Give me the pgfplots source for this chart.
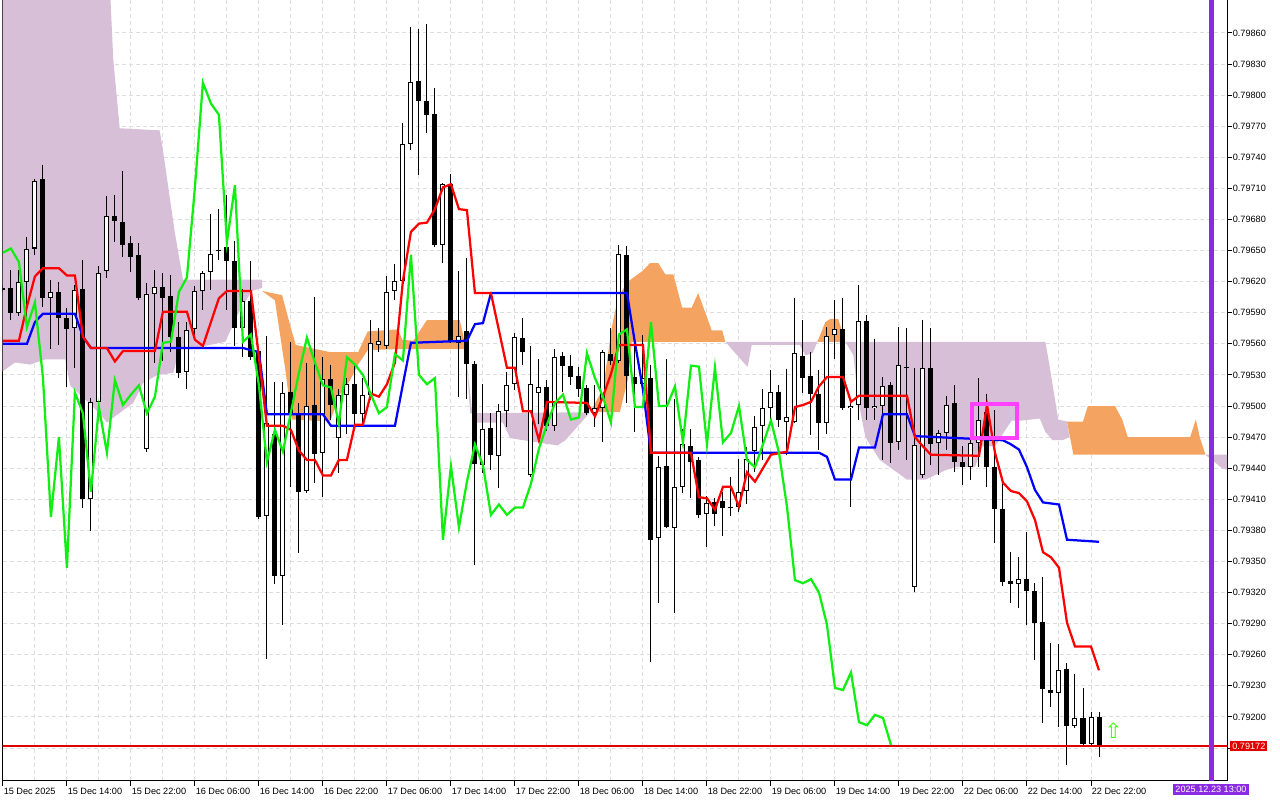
\documentclass[border=0pt]{standalone}
\usepackage{fontspec}
\setmainfont{Liberation Sans}
\newfontfamily\dejavu{DejaVu Sans}
\usepackage{pgfplots}
\usepackage{pgfplotstable}
\pgfplotsset{compat=1.18}

\definecolor{thistlec}{HTML}{D8BFD8}
\definecolor{sandyc}{HTML}{F4A460}
\definecolor{tenkanc}{HTML}{FF0000}
\definecolor{kijunc}{HTML}{0000FF}
\definecolor{chikouc}{HTML}{11EE11}
\definecolor{vlinec}{HTML}{8A2BE2}
\definecolor{boxc}{HTML}{FF40FF}
\definecolor{pricec}{HTML}{E00000}
\definecolor{gridc}{HTML}{DDDDDD}
\newcommand\lbl{\fontsize{5.2}{6}\selectfont}

% H1 candles, bar index 0 = 15 Dec 06:00
\pgfplotstableread{
i o h l c
0 0.79614 0.79617 0.79610 0.79612
1 0.79614 0.79631 0.79583 0.79590
2 0.79590 0.79631 0.79587 0.79620
3 0.79620 0.79663 0.79576 0.79652
4 0.79652 0.79719 0.79646 0.79717
5 0.79719 0.79733 0.79596 0.79604
6 0.79604 0.79622 0.79555 0.79610
7 0.79610 0.79620 0.79559 0.79585
8 0.79585 0.79595 0.79518 0.79574
9 0.79575 0.79617 0.79537 0.79612
10 0.79613 0.79641 0.79402 0.79410
11 0.79410 0.79508 0.79379 0.79504
12 0.79504 0.79635 0.79493 0.79628
13 0.79630 0.79703 0.79624 0.79683
14 0.79683 0.79704 0.79658 0.79679
15 0.79678 0.79727 0.79644 0.79655
16 0.79657 0.79664 0.79629 0.79644
17 0.79646 0.79657 0.79602 0.79604
18 0.79459 0.79619 0.79456 0.79608
19 0.79608 0.79631 0.79542 0.79615
20 0.79615 0.79628 0.79543 0.79604
21 0.79606 0.79626 0.79552 0.79567
22 0.79567 0.79581 0.79527 0.79532
23 0.79533 0.79581 0.79516 0.79573
24 0.79574 0.79616 0.79564 0.79611
25 0.79611 0.79630 0.79593 0.79628
26 0.79629 0.79685 0.79612 0.79647
27 0.79651 0.79690 0.79641 0.79650
28 0.79653 0.79704 0.79593 0.79640
29 0.79640 0.79659 0.79558 0.79575
30 0.79575 0.79613 0.79547 0.79601
31 0.79601 0.79640 0.79544 0.79547
32 0.79553 0.79556 0.79391 0.79393
33 0.79394 0.79568 0.79256 0.79484
34 0.79473 0.79523 0.79328 0.79336
35 0.79336 0.79523 0.79289 0.79513
36 0.79514 0.79562 0.79422 0.79492
37 0.79492 0.79503 0.79358 0.79417
38 0.79418 0.79542 0.79416 0.79500
39 0.79501 0.79605 0.79426 0.79454
40 0.79455 0.79547 0.79412 0.79526
41 0.79526 0.79540 0.79487 0.79501
42 0.79469 0.79516 0.79435 0.79511
43 0.79511 0.79527 0.79473 0.79521
44 0.79521 0.79542 0.79477 0.79492
45 0.79492 0.79527 0.79483 0.79511
46 0.79511 0.79583 0.79506 0.79561
47 0.79559 0.79575 0.79552 0.79563
48 0.79558 0.79625 0.79555 0.79610
49 0.79611 0.79637 0.79602 0.79621
50 0.79621 0.79773 0.79618 0.79753
51 0.79753 0.79866 0.79747 0.79813
52 0.79814 0.79864 0.79723 0.79794
53 0.79794 0.79869 0.79763 0.79781
54 0.79782 0.79807 0.79653 0.79655
55 0.79655 0.79715 0.79638 0.79714
56 0.79714 0.79724 0.79561 0.79563
57 0.79561 0.79630 0.79509 0.79568
58 0.79572 0.79643 0.79507 0.79541
59 0.79541 0.79543 0.79347 0.79444
60 0.79443 0.79521 0.79435 0.79478
61 0.79479 0.79493 0.79438 0.79453
62 0.79452 0.79502 0.79421 0.79495
63 0.79495 0.79533 0.79480 0.79520
64 0.79521 0.79570 0.79515 0.79567
65 0.79566 0.79585 0.79540 0.79552
66 0.79433 0.79558 0.79432 0.79521
67 0.79513 0.79545 0.79483 0.79518
68 0.79518 0.79525 0.79476 0.79481
69 0.79481 0.79555 0.79476 0.79547
70 0.79548 0.79552 0.79514 0.79539
71 0.79539 0.79549 0.79520 0.79528
72 0.79529 0.79538 0.79509 0.79516
73 0.79517 0.79520 0.79491 0.79493
74 0.79493 0.79520 0.79480 0.79498
75 0.79498 0.79554 0.79465 0.79552
76 0.79550 0.79575 0.79540 0.79543
77 0.79543 0.79655 0.79542 0.79647
78 0.79646 0.79654 0.79503 0.79529
79 0.79528 0.79561 0.79475 0.79521
80 0.79521 0.79569 0.79519 0.79527
81 0.79527 0.79540 0.79253 0.79371
82 0.79373 0.79452 0.79310 0.79441
83 0.79442 0.79545 0.79382 0.79383
84 0.79382 0.79507 0.79300 0.79422
85 0.79422 0.79478 0.79416 0.79463
86 0.79461 0.79478 0.79411 0.79446
87 0.79448 0.79451 0.79392 0.79395
88 0.79396 0.79413 0.79364 0.79406
89 0.79407 0.79411 0.79384 0.79396
90 0.79408 0.79417 0.79375 0.79402
91 0.79403 0.79432 0.79394 0.79402
92 0.79403 0.79449 0.79398 0.79417
93 0.79418 0.79460 0.79405 0.79449
94 0.79457 0.79490 0.79436 0.79480
95 0.79481 0.79516 0.79448 0.79498
96 0.79498 0.79535 0.79487 0.79514
97 0.79514 0.79520 0.79480 0.79487
98 0.79485 0.79536 0.79453 0.79489
99 0.79485 0.79604 0.79484 0.79551
100 0.79548 0.79583 0.79513 0.79527
101 0.79529 0.79552 0.79472 0.79512
102 0.79512 0.79535 0.79458 0.79484
103 0.79484 0.79576 0.79473 0.79568
104 0.79569 0.79602 0.79545 0.79574
105 0.79574 0.79604 0.79496 0.79498
106 0.79498 0.79503 0.79403 0.79500
107 0.79501 0.79617 0.79487 0.79582
108 0.79582 0.79588 0.79487 0.79498
109 0.79498 0.79565 0.79487 0.79500
110 0.79500 0.79528 0.79448 0.79519
111 0.79520 0.79523 0.79445 0.79464
112 0.79465 0.79576 0.79458 0.79540
113 0.79538 0.79575 0.79448 0.79537
114 0.79325 0.79537 0.79321 0.79462
115 0.79433 0.79583 0.79431 0.79537
116 0.79537 0.79575 0.79443 0.79463
117 0.79464 0.79477 0.79433 0.79474
118 0.79474 0.79510 0.79458 0.79501
119 0.79503 0.79520 0.79436 0.79446
120 0.79446 0.79461 0.79424 0.79441
121 0.79441 0.79475 0.79429 0.79464
122 0.79464 0.79527 0.79441 0.79487
123 0.79494 0.79512 0.79422 0.79441
124 0.79441 0.79496 0.79368 0.79401
125 0.79401 0.79426 0.79326 0.79330
126 0.79331 0.79359 0.79310 0.79328
127 0.79328 0.79354 0.79305 0.79333
128 0.79333 0.79378 0.79289 0.79322
129 0.79322 0.79329 0.79255 0.79291
130 0.79292 0.79335 0.79194 0.79227
131 0.79226 0.79271 0.79210 0.79223
132 0.79223 0.79270 0.79190 0.79245
133 0.79246 0.79252 0.79154 0.79191
134 0.79191 0.79241 0.79189 0.79199
135 0.79199 0.79228 0.79173 0.79174
136 0.79174 0.79205 0.79172 0.79200
137 0.79200 0.79205 0.79161 0.79172
}\candles

\begin{document}
\begin{tikzpicture}
\path[use as bounding box] (-0.054,-0.38) rectangle (25.546,15.62);
\begin{axis}[
    at={(0,0)}, anchor=south west,
    scale only axis,
    width=24.486cm, height=15.62cm,
    xmin=-0.025, xmax=153.0,
    ymin=0.791382, ymax=0.798918,
    clip mode=individual,
    axis line style={black, line width=0.02cm},
    tick style={black, line width=0.02cm},
    tick align=outside,
    major tick length=0.1cm,
    minor tick length=0pt,
    xtick pos=left,
    ytick pos=right,
    yticklabel pos=right,
    xtick={0,8,...,136},
    minor x tick num=1,
    xticklabels={15 Dec 2025,15 Dec 14:00,15 Dec 22:00,16 Dec 06:00,16 Dec 14:00,16 Dec 22:00,17 Dec 06:00,17 Dec 14:00,17 Dec 22:00,18 Dec 06:00,18 Dec 14:00,18 Dec 22:00,19 Dec 06:00,19 Dec 14:00,19 Dec 22:00,22 Dec 06:00,22 Dec 14:00,22 Dec 22:00},
    ytick={0.7917,0.7920,0.7923,0.7926,0.7929,0.7932,0.7935,0.7938,0.7941,0.7944,0.7947,0.7950,0.7953,0.7956,0.7959,0.7962,0.7965,0.7968,0.7971,0.7974,0.7977,0.7980,0.7983,0.7986},
    yticklabels={,0.79200,0.79230,0.79260,0.79290,0.79320,0.79350,0.79380,0.79410,0.79440,0.79470,0.79500,0.79530,0.79560,0.79590,0.79620,0.79650,0.79680,0.79710,0.79740,0.79770,0.79800,0.79830,0.79860},
    xticklabel style={font=\lbl, anchor=north west, inner sep=0pt, xshift=0.01cm, yshift=-0.04cm},
    yticklabel style={font=\lbl, anchor=west, inner sep=0pt, xshift=0.01cm},
    xmajorgrids, xminorgrids, ymajorgrids,
    major grid style={gridc, line width=0.02cm, dash pattern=on 0.08cm off 0.06cm},
    minor grid style={gridc, line width=0.02cm, dash pattern=on 0.08cm off 0.06cm},
]

% Ichimoku cloud
\addplot[fill=thistlec, draw=none, forget plot] coordinates {(-1,0.7990) (13.4,0.7990) (13.8,0.79834) (14.6,0.79768) (19.6,0.79766) (20.0,0.79747) (21.5,0.79667) (22.5,0.79622) (32.4,0.79622) (32.4,0.79614) (31.1,0.79611) (29.4,0.79589) (27.8,0.79562) (22.8,0.79554) (22.1,0.79557) (21.3,0.79532) (19.3,0.79530) (17.5,0.79522) (16.3,0.79503) (14.0,0.79490) (13.0,0.79484) (12.1,0.79493) (10.3,0.79506) (8.4,0.79520) (7.8,0.79545) (5.3,0.79545) (3.4,0.79540) (1.5,0.79542) (-1,0.79528)};
\addplot[fill=sandyc, draw=none, forget plot] coordinates {(32.4,0.79611) (34.9,0.79607) (35.9,0.79578) (36.6,0.79559) (40.9,0.79552) (44.4,0.79552) (45.6,0.79572) (49.4,0.79574) (49.9,0.79564) (51.3,0.79563) (53.0,0.79583) (57.1,0.79583) (57.8,0.79559) (57.8,0.79555) (49.6,0.79555) (45.6,0.79554) (44.4,0.79540) (43.4,0.79525) (42.1,0.79511) (40.9,0.79485) (36.1,0.79487) (35.3,0.79535) (34.0,0.79602)};
\addplot[fill=thistlec, draw=none, forget plot] coordinates {(57.8,0.79559) (58.4,0.79493) (73.4,0.79494) (70.3,0.79467) (69.3,0.79462) (63.4,0.79469) (62.5,0.79484) (58.8,0.79484) (57.8,0.79555)};
\addplot[fill=sandyc, draw=none, forget plot] coordinates {(73.4,0.79494) (74.6,0.79511) (75.3,0.79532) (76.1,0.79576) (76.9,0.79605) (78.1,0.79620) (79.9,0.79630) (80.9,0.79638) (81.9,0.79638) (82.8,0.79627) (83.8,0.79627) (84.9,0.79595) (86.1,0.79595) (86.9,0.79609) (88.6,0.79573) (89.9,0.79573) (90.3,0.79562) (78.6,0.79562) (78.1,0.79525) (77.1,0.79494)};
\addplot[fill=thistlec, draw=none, forget plot] coordinates {(90.3,0.79562) (101.8,0.79562) (101.2,0.79551) (100.3,0.79549) (99.6,0.79559) (93.6,0.79559) (93.1,0.79538) (92.8,0.79540)};
\addplot[fill=sandyc, draw=none, forget plot] coordinates {(101.8,0.79562) (102.8,0.79581) (103.4,0.79584) (104.4,0.79584) (105.3,0.79562)};
\addplot[fill=thistlec, draw=none, forget plot] coordinates {(105.3,0.79562) (130.3,0.79562) (130.9,0.79535) (131.9,0.79487) (133.0,0.79485) (133.3,0.79470) (132.4,0.79467) (131.2,0.79467) (130.3,0.79475) (129.6,0.79488) (127.4,0.79486) (126.1,0.79486) (125.3,0.79477) (124.0,0.79461) (122.4,0.79461) (121.5,0.79441) (119.0,0.79441) (117.8,0.79438) (115.3,0.79429) (113.0,0.79429) (109.6,0.79448) (107.8,0.79470) (106.9,0.79506) (106.3,0.79549)};
\addplot[fill=sandyc, draw=none, forget plot] coordinates {(133.0,0.79485) (135.0,0.79485) (135.6,0.79500) (139.0,0.79500) (139.9,0.79487) (140.6,0.79470) (148.4,0.79470) (149.1,0.79487) (149.6,0.79470) (150.3,0.79453) (133.8,0.79453)};
\addplot[fill=thistlec, draw=none, forget plot] coordinates {(150.3,0.79453) (154,0.79453) (154,0.79436) (152.4,0.79440)};

% candles: wicks, bodies, hollow part of bull bodies
\addplot[draw=none, mark=none, forget plot, error bars/.cd, y dir=minus, y explicit, error mark=none,
    error bar style={draw=black, line width=0.02cm}]
    table[x=i, y=h, y error expr=\thisrow{h}-\thisrow{l}] {\candles};
\addplot[draw=none, mark=none, forget plot, error bars/.cd, y dir=minus, y explicit, error mark=none,
    error bar style={draw=black, line width=0.1cm}]
    table[x=i, y expr={max(\thisrow{o},\thisrow{c})}, y error expr={max(abs(\thisrow{o}-\thisrow{c}),0.00001)}] {\candles};
\addplot[draw=none, mark=none, forget plot, error bars/.cd, y dir=minus, y explicit, error mark=none,
    error bar style={draw=white, line width=0.06cm}]
    table[x=i, y expr={\thisrow{c}-0.0000097}, y error expr={max(\thisrow{c}-\thisrow{o}-0.0000194,0)}] {\candles};

% Kijun-sen
\addplot[kijunc, line width=0.045cm, mark=none] coordinates {(0,0.79560) (3,0.79560) (4,0.79581) (5,0.79589) (9,0.79589) (10,0.79567) (11,0.79556) (30,0.79556) (31,0.79554) (32,0.79552) (33,0.79492) (40,0.79492) (41,0.79481) (49,0.79481) (51,0.79561) (58,0.79563) (59,0.79579) (60,0.79580) (61,0.79609) (78,0.79609) (79,0.79561) (80,0.79516) (81,0.79455) (102,0.79455) (103,0.79451) (104,0.79429) (106,0.79429) (107,0.79460) (109,0.79460) (110,0.79492) (113,0.79492) (114,0.79471) (125,0.79467) (126,0.79463) (127,0.79458) (128,0.79441) (129,0.79419) (130,0.79407) (132,0.79405) (133,0.79371) (137,0.79369)};
% Tenkan-sen
\addplot[tenkanc, line width=0.045cm, mark=none] coordinates {(0,0.79563) (2,0.79563) (3,0.79596) (4,0.79625) (5,0.79633) (7,0.79633) (8,0.79626) (9,0.79626) (10,0.79567) (11,0.79556) (13,0.79556) (14,0.79543) (15,0.79553) (19,0.79553) (20,0.79591) (23,0.79591) (24,0.79564) (25,0.79558) (27,0.79604) (28,0.79611) (31,0.79611) (32,0.79547) (33,0.79481) (35,0.79481) (36,0.79477) (37,0.79457) (38,0.79448) (39,0.79448) (40,0.79433) (41,0.79433) (42,0.79448) (43,0.79448) (44,0.79482) (45,0.79482) (46,0.79512) (47,0.79509) (48,0.79521) (49,0.79542) (50,0.79621) (51,0.79668) (52,0.79676) (53,0.79677) (54,0.79690) (55,0.79711) (56,0.79714) (57,0.79690) (58,0.79689) (59,0.79609) (61,0.79609) (63,0.79537) (64,0.79537) (65,0.79495) (66,0.79495) (67,0.79467) (68,0.79504) (73,0.79503) (74,0.79490) (75,0.79509) (76,0.79531) (77,0.79559) (80,0.79559) (81,0.79455) (86,0.79455) (87,0.79412) (88,0.79411) (89,0.79400) (90,0.79422) (91,0.79422) (92,0.79403) (93,0.79436) (94,0.79427) (95,0.79440) (96,0.79453) (98,0.79456) (99,0.79499) (100,0.79501) (101,0.79504) (102,0.79519) (103,0.79528) (105,0.79528) (106,0.79504) (107,0.79510) (113,0.79510) (114,0.79470) (115,0.79461) (116,0.79453) (122,0.79452) (123,0.79501) (124,0.79455) (125,0.79426) (126,0.79418) (127,0.79416) (128,0.79408) (129,0.79390) (130,0.79359) (131,0.79354) (132,0.79344) (133,0.79291) (134,0.79268) (136,0.79268) (137,0.79245)};
% Chikou span
\addplot[chikouc, line width=0.045cm, mark=none] coordinates {(0,0.79648) (1,0.79652) (2,0.79639) (3,0.79576) (4,0.79600) (5,0.79528) (6,0.79393) (7,0.79470) (8,0.79344) (9,0.79513) (10,0.79493) (11,0.79417) (12,0.79499) (13,0.79455) (14,0.79525) (15,0.79501) (16,0.79511) (17,0.79520) (18,0.79493) (19,0.79509) (20,0.79561) (21,0.79562) (22,0.79610) (23,0.79624) (24,0.79711) (25,0.79812) (26,0.79792) (27,0.79781) (28,0.79658) (29,0.79713) (30,0.79562) (31,0.79569) (32,0.79520) (33,0.79446) (34,0.79477) (35,0.79456) (36,0.79494) (37,0.79532) (38,0.79566) (39,0.79542) (40,0.79520) (41,0.79518) (42,0.79483) (43,0.79547) (44,0.79540) (45,0.79530) (46,0.79511) (47,0.79493) (48,0.79499) (49,0.79550) (50,0.79544) (51,0.79646) (52,0.79530) (53,0.79521) (54,0.79527) (55,0.79371) (56,0.79442) (57,0.79383) (58,0.79427) (59,0.79463) (60,0.79443) (61,0.79395) (62,0.79405) (63,0.79395) (64,0.79402) (65,0.79402) (66,0.79425) (67,0.79459) (68,0.79482) (69,0.79503) (70,0.79511) (71,0.79487) (72,0.79489) (73,0.79551) (74,0.79527) (75,0.79509) (76,0.79484) (77,0.79569) (78,0.79574) (79,0.79499) (80,0.79499) (81,0.79581) (82,0.79500) (83,0.79500) (84,0.79519) (85,0.79465) (86,0.79539) (87,0.79538) (88,0.79463) (89,0.79537) (90,0.79465) (91,0.79474) (92,0.79500) (93,0.79448) (94,0.79441) (95,0.79463) (96,0.79486) (97,0.79455) (98,0.79403) (99,0.79332) (100,0.79329) (101,0.79333) (102,0.79320) (103,0.79289) (104,0.79228) (105,0.79226) (106,0.79243) (107,0.79195) (108,0.79192) (109,0.79202) (110,0.79199) (111,0.79173)};

% current price line and time marker
\addplot[draw=pricec, line width=0.028cm, mark=none] coordinates {(-1,0.79172) (154,0.79172)};
\addplot[vlinec, line width=0.1cm, mark=none] coordinates {(151,0.7910) (151,0.7992)};
% highlighted box
\addplot[boxc, line width=0.08cm, mark=none, line cap=rect] coordinates {(121.1,0.79502) (126.8,0.79502) (126.8,0.79469) (121.1,0.79469) (121.1,0.79502)};

\coordinate (pricept) at (axis cs:153,0.79172);
\coordinate (datept) at (axis cs:151,0.791382);
\coordinate (arrowpt) at (axis cs:138.8,0.79187);
\end{axis}
\node[anchor=west, fill=pricec, text=white, font=\lbl, inner xsep=0.04cm, inner ysep=0pt, minimum height=0.21cm] at ([xshift=0.06cm]pricept) {0.79172};
\node[anchor=north, fill=vlinec, text=white, font=\lbl, inner xsep=0.05cm, inner ysep=0pt, minimum height=0.21cm] at ([yshift=-0.06cm]datept) {2025.12.23 13:00};
\node[text=green!70!lime, font=\dejavu\fontsize{12}{12}\selectfont, inner sep=0pt] at (arrowpt) {⇧};
\end{tikzpicture}
\end{document}
